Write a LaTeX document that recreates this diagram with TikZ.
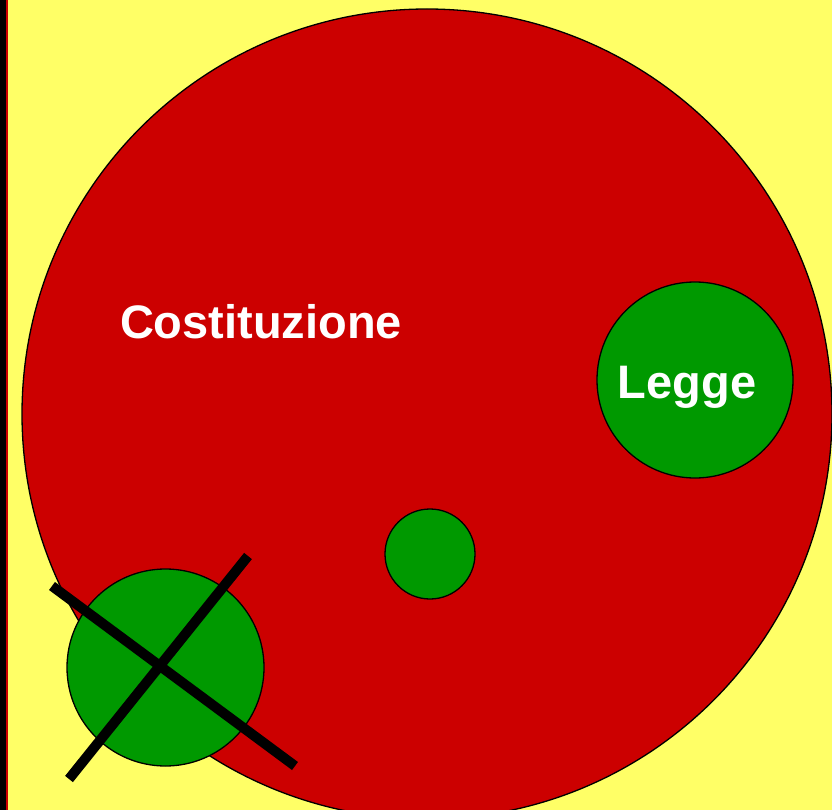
\documentclass[tikz,border=0pt]{standalone}
\usepackage{fontspec}
\setsansfont{Liberation Sans}
\usetikzlibrary{positioning}
\definecolor{bgyellow}{HTML}{FFFF66}
\definecolor{fillred}{HTML}{CC0000}
\definecolor{fillgreen}{HTML}{009900}
\begin{document}
\begin{tikzpicture}[
  x=1pt, y=-1pt,
  disc/.style={circle, draw=black, line width=1.3pt, inner sep=0pt},
  bigdisc/.style={disc, fill=fillred},
  smalldisc/.style={disc, fill=fillgreen},
  label/.style={font=\sffamily\bfseries\fontsize{47}{47}\selectfont, text=white, anchor=base, inner sep=0pt},
  strike/.style={line width=10pt, black}
]
% page and background
\useasboundingbox (0,0) rectangle (832,810);
\clip (0,0) rectangle (832,810);
\fill[bgyellow] (0,0) rectangle (832,810);
\fill[black] (0,0) rectangle (6,810);
\fill[fillred] (6,0) rectangle (8,810);
% the constitution
\node[bigdisc, minimum size=810pt] (cost) at (427,414) {};
\node[label] (costtxt) at (261,338) {Costituzione};
% the laws inside it
\node[smalldisc, minimum size=196pt] (legge) at (695,380) {};
\node[label] (leggetxt) at (687,398) {Legge};
\node[smalldisc, minimum size=90pt] (inner) at (430,554) {};
\node[smalldisc, minimum size=197pt] (outer) at (165.5,667.5) {};
% the crossed-out law
\coordinate (s1a) at (52,586);
\coordinate (s1b) at (295,766);
\coordinate (s2a) at (69,779);
\coordinate (s2b) at (248,556);
\draw[strike] (s1a) -- (s1b);
\draw[strike] (s2a) -- (s2b);
\end{tikzpicture}
\end{document}
